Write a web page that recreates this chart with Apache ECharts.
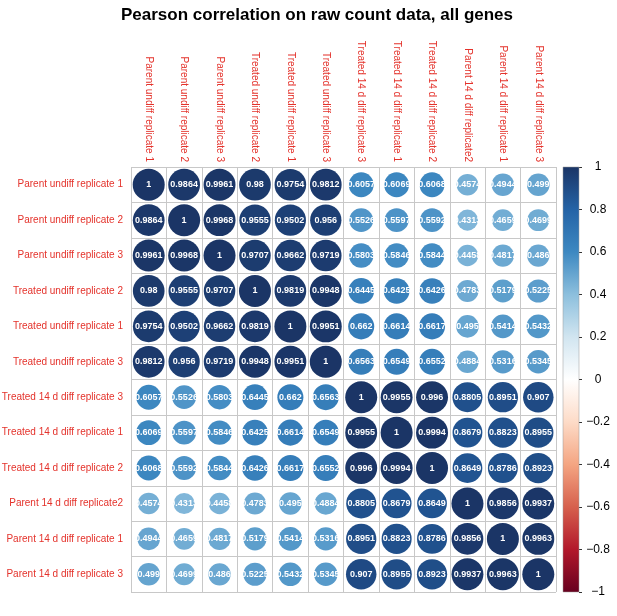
<!DOCTYPE html>
<html>
<head>
<meta charset="utf-8">
<script src="https://cdn.jsdelivr.net/npm/echarts@6/dist/echarts.min.js"></script>
<style>
  html, body { margin: 0; padding: 0; background: #fff; }
  #main { width: 617px; height: 616px; }
</style>
</head>
<body>
<div id="main"></div>
<script>
const samples = [
  'Parent undiff replicate 1',
  'Parent undiff replicate 2',
  'Parent undiff replicate 3',
  'Treated undiff replicate 2',
  'Treated undiff replicate 1',
  'Treated undiff replicate 3',
  'Treated 14 d diff replicate 3',
  'Treated 14 d diff replicate 1',
  'Treated 14 d diff replicate 2',
  'Parent 14 d diff replicate2',
  'Parent 14 d diff replicate 1',
  'Parent 14 d diff replicate 3'
]

// one row of the correlation matrix per sample, same order as samples
const parentUndiff1 = [1, 0.9864, 0.9961, 0.98, 0.9754, 0.9812, 0.6057, 0.6069, 0.6068, 0.4574, 0.4944, 0.499]
const parentUndiff2 = [0.9864, 1, 0.9968, 0.9555, 0.9502, 0.956, 0.5526, 0.5597, 0.5592, 0.4313, 0.4659, 0.4699]
const parentUndiff3 = [0.9961, 0.9968, 1, 0.9707, 0.9662, 0.9719, 0.5803, 0.5846, 0.5844, 0.4458, 0.4817, 0.486]
const treatedUndiff2 = [0.98, 0.9555, 0.9707, 1, 0.9819, 0.9948, 0.6445, 0.6425, 0.6426, 0.4783, 0.5179, 0.5225]
const treatedUndiff1 = [0.9754, 0.9502, 0.9662, 0.9819, 1, 0.9951, 0.662, 0.6614, 0.6617, 0.495, 0.5414, 0.5432]
const treatedUndiff3 = [0.9812, 0.956, 0.9719, 0.9948, 0.9951, 1, 0.6563, 0.6549, 0.6552, 0.4884, 0.5316, 0.5345]
const treatedDiff3 = [0.6057, 0.5526, 0.5803, 0.6445, 0.662, 0.6563, 1, 0.9955, 0.996, 0.8805, 0.8951, 0.907]
const treatedDiff1 = [0.6069, 0.5597, 0.5846, 0.6425, 0.6614, 0.6549, 0.9955, 1, 0.9994, 0.8679, 0.8823, 0.8955]
const treatedDiff2 = [0.6068, 0.5592, 0.5844, 0.6426, 0.6617, 0.6552, 0.996, 0.9994, 1, 0.8649, 0.8786, 0.8923]
const parentDiff2 = [0.4574, 0.4313, 0.4458, 0.4783, 0.495, 0.4884, 0.8805, 0.8679, 0.8649, 1, 0.9856, 0.9937]
const parentDiff1 = [0.4944, 0.4659, 0.4817, 0.5179, 0.5414, 0.5316, 0.8951, 0.8823, 0.8786, 0.9856, 1, 0.9963]
const parentDiff3 = [0.499, 0.4699, 0.486, 0.5225, 0.5432, 0.5345, 0.907, 0.8955, 0.8923, 0.9937, 0.9963, 1]

const colorbarTicks = [-1, -0.8, -0.6, -0.4, -0.2, 0, 0.2, 0.4, 0.6, 0.8, 1]
const palette = ['#67001F', '#B2182B', '#D6604D', '#F4A582', '#FDDBC7', '#FFFFFF',
  '#D1E5F0', '#8CBFDD', '#3D88C1', '#2463A6', '#1B3566']

const rows = [parentUndiff1, parentUndiff2, parentUndiff3, treatedUndiff2, treatedUndiff1, treatedUndiff3,
  treatedDiff3, treatedDiff1, treatedDiff2, parentDiff2, parentDiff1, parentDiff3]

const cells = []
rows.forEach((row, i) => {
  row.forEach((v, j) => {
    cells.push([j, i, v])
  })
})

const red = '#e4322b'
const font = 'Arial, "Liberation Sans", Helvetica, sans-serif'

const chart = echarts.init(document.getElementById('main'))
chart.setOption({
  animation: false,
  backgroundColor: '#fff',
  title: {
    text: 'Pearson correlation on raw count data, all genes',
    left: 312,
    textAlign: 'center',
    top: 2,
    textStyle: { fontSize: 17, fontWeight: 'bold', color: '#000', fontFamily: font }
  },
  grid: [
    { left: 131, top: 167, width: 425, height: 425, outerBoundsMode: 'none', containLabel: false },
    { left: 563, top: 167, width: 16, height: 425, outerBoundsMode: 'none', containLabel: false }
  ],
  visualMap: {
    show: false,
    type: 'continuous',
    seriesIndex: 0,
    dimension: 2,
    min: -1,
    max: 1,
    inRange: { color: palette }
  },
  xAxis: [
    {
      type: 'category',
      data: samples,
      position: 'top',
      gridIndex: 0,
      axisLine: { show: false },
      axisTick: { show: false },
      splitLine: { show: true, lineStyle: { color: '#c8c8c8', width: 1 } },
      axisLabel: { rotate: 90, margin: 5, color: red, fontSize: 10, fontFamily: font, interval: 0 }
    },
    {
      type: 'category',
      data: [''],
      gridIndex: 1,
      show: false
    }
  ],
  yAxis: [
    {
      type: 'category',
      data: samples,
      inverse: true,
      gridIndex: 0,
      axisLine: { show: false },
      axisTick: { show: false },
      splitLine: { show: true, lineStyle: { color: '#c8c8c8', width: 1 } },
      axisLabel: { margin: 8, color: red, fontSize: 10, fontFamily: font, interval: 0 }
    },
    {
      type: 'value',
      gridIndex: 1,
      position: 'right',
      min: -1,
      max: 1,
      interval: 0.2,
      splitLine: { show: false },
      axisLine: { show: false },
      axisTick: { show: true, length: 3, lineStyle: { color: '#333' } },
      axisLabel: {
        margin: 19,
        align: 'center',
        color: '#000',
        fontSize: 12,
        fontFamily: font,
        formatter: v => {
          const s = String(+v.toFixed(1))
          return s.replace('-', '\u2212')
        }
      }
    }
  ],
  series: [
    {
      type: 'scatter',
      xAxisIndex: 0,
      yAxisIndex: 0,
      data: cells,
      symbol: 'circle',
      symbolSize: d => 32 * Math.sqrt(Math.abs(d[2])),
      itemStyle: { opacity: 1 },
      label: {
        show: true,
        position: 'inside',
        formatter: p => String(p.value[2]),
        color: '#fff',
        fontWeight: 'bold',
        fontSize: 9,
        fontFamily: font
      }
    },
    {
      type: 'custom',
      xAxisIndex: 1,
      yAxisIndex: 1,
      data: [[0, colorbarTicks[0], colorbarTicks[colorbarTicks.length - 1]]],
      renderItem: (params, api) => {
        const top = api.coord([0, api.value(2)])
        const bottom = api.coord([0, api.value(1)])
        const cs = params.coordSys
        return {
          type: 'rect',
          shape: { x: cs.x, y: top[1], width: cs.width, height: bottom[1] - top[1] },
          style: {
            fill: new echarts.graphic.LinearGradient(0, 0, 0, 1,
              palette.slice().reverse().map((c, k) => ({ offset: k / (palette.length - 1), color: c }))),
            stroke: '#999',
            lineWidth: 0.5
          }
        }
      }
    }
  ]
})
</script>
</body>
</html>
